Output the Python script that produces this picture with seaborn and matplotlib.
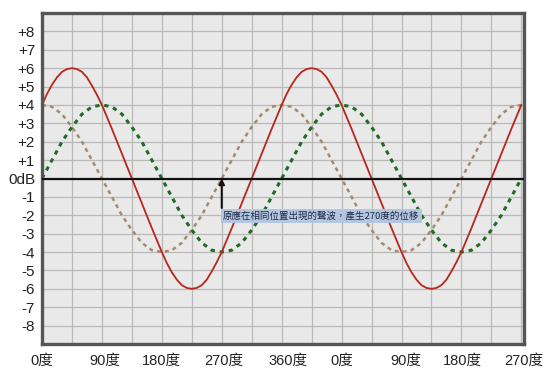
import numpy as np
import pandas as pd
import matplotlib
matplotlib.use("Agg")
import matplotlib.pyplot as plt
import seaborn as sns

# ---- data ----
degrees = list(range(0, 721, 15))
green_wave = [0, 1.0, 2.0, 2.8, 3.5, 3.9, 4.0, 3.9, 3.5, 2.8, 2.0, 1.0,
              0, -1.0, -2.0, -2.8, -3.5, -3.9, -4.0, -3.9, -3.5, -2.8, -2.0, -1.0,
              0, 1.0, 2.0, 2.8, 3.5, 3.9, 4.0, 3.9, 3.5, 2.8, 2.0, 1.0,
              0, -1.0, -2.0, -2.8, -3.5, -3.9, -4.0, -3.9, -3.5, -2.8, -2.0, -1.0, 0]
brown_wave = [4.0, 3.9, 3.5, 2.8, 2.0, 1.0, 0, -1.0, -2.0, -2.8, -3.5, -3.9,
              -4.0, -3.9, -3.5, -2.8, -2.0, -1.0, 0, 1.0, 2.0, 2.8, 3.5, 3.9,
              4.0, 3.9, 3.5, 2.8, 2.0, 1.0, 0, -1.0, -2.0, -2.8, -3.5, -3.9,
              -4.0, -3.9, -3.5, -2.8, -2.0, -1.0, 0, 1.0, 2.0, 2.8, 3.5, 3.9, 4.0]

red_degrees = [0, 7.5, 15, 22.5, 30, 37.5, 45, 52.5, 60, 67.5, 75, 82.5, 90,
               105, 120, 135, 150, 165,
               180, 187.5, 195, 202.5, 210, 217.5, 225, 232.5, 240, 247.5, 255, 262.5, 270,
               285, 300, 315, 330, 345,
               360, 367.5, 375, 382.5, 390, 397.5, 405, 412.5, 420, 427.5, 435, 442.5, 450,
               465, 480, 495, 510, 525,
               540, 547.5, 555, 562.5, 570, 577.5, 585, 592.5, 600, 607.5, 615, 622.5, 630,
               645, 660, 675, 690, 705, 720]
red_wave = [4.0, 4.6, 5.1, 5.5, 5.8, 5.95, 6.0, 5.95, 5.8, 5.5, 5.05, 4.55, 4.0,
            2.7, 1.35, 0, -1.35, -2.7,
            -4.0, -4.6, -5.1, -5.5, -5.8, -5.95, -6.0, -5.95, -5.8, -5.5, -5.05, -4.55, -4.0,
            -2.7, -1.35, 0, 1.35, 2.7,
            4.0, 4.6, 5.1, 5.5, 5.8, 5.95, 6.0, 5.95, 5.8, 5.5, 5.05, 4.55, 4.0,
            2.7, 1.35, 0, -1.35, -2.7,
            -4.0, -4.6, -5.1, -5.5, -5.8, -5.95, -6.0, -5.95, -5.8, -5.5, -5.05, -4.55, -4.0,
            -2.7, -1.35, 0, 1.35, 2.7, 4.0]

y_ticks = [8, 7, 6, 5, 4, 3, 2, 1, 0, -1, -2, -3, -4, -5, -6, -7, -8]
y_labels = ["+8", "+7", "+6", "+5", "+4", "+3", "+2", "+1", "0dB",
            "-1", "-2", "-3", "-4", "-5", "-6", "-7", "-8"]
x_tick_pos = [0, 94, 179, 273, 369, 451, 547, 632, 724]
x_tick_labels = ["0度", "90度", "180度", "270度", "360度", "0度", "90度", "180度", "270度"]
note_text = "原應在相同位置出現的聲波，產生270度的位移"
note_deg = 270

df = pd.DataFrame({"deg": degrees, "green": green_wave, "brown": brown_wave})
df_red = pd.DataFrame({"deg": red_degrees, "red": red_wave})

sns.set_theme(style="white")
plt.rcParams["font.family"] = ["Liberation Sans", "Noto Sans CJK TC", "DejaVu Sans"]

fig = plt.figure(figsize=(5.57, 3.77), dpi=100)
ax = fig.add_axes([42 / 557, 1 - 344 / 377, 482 / 557, 331 / 377])
ax.set_facecolor("#e9e9e9")

sns.lineplot(data=df, x="deg", y="brown", ax=ax, color="#a58a6e",
             linewidth=1.8, linestyle=(0, (1.6, 1.6)))
sns.lineplot(data=df, x="deg", y="green", ax=ax, color="#1f6b24",
             linewidth=2.2, linestyle=(0, (1.4, 1.6)))
sns.lineplot(data=df_red, x="deg", y="red", ax=ax, color="#b8261c",
             linewidth=1.3)

ax.set_xlim(0, 720)
ax.set_ylim(-9, 9)

ax.set_yticks(y_ticks)
ax.set_yticklabels(y_labels, fontsize=11, color="#222222")
ax.set_xticks(x_tick_pos)
ax.set_xticklabels(x_tick_labels, fontsize=10.5, color="#222222")

# grid lines: every 45 degrees and every 1 dB (minor grid)
ax.xaxis.remove_overlapping_locs = False
ax.yaxis.remove_overlapping_locs = False
ax.set_xticks(np.arange(0, 721, 45), minor=True)
ax.set_yticks(np.arange(-9, 10, 1), minor=True)
ax.grid(False, which="major")
ax.grid(True, which="minor", color="#b9b9b9", linewidth=0.9)
ax.set_axisbelow(True)

ax.axhline(0, color="#111111", linewidth=1.6, zorder=4)

ax.tick_params(axis="both", which="both", length=0)
ax.tick_params(axis="y", pad=5)
ax.tick_params(axis="x", pad=7)
ax.set_xlabel("")
ax.set_ylabel("")

for s in ax.spines.values():
    s.set_visible(True)
    s.set_color("#555555")
    s.set_linewidth(2.4)

ax.annotate("", xy=(note_deg, 0), xytext=(note_deg, -1.6),
            arrowprops=dict(arrowstyle="-|>", color="#111111", lw=1.5,
                            mutation_scale=8, shrinkA=0, shrinkB=0), zorder=6)
ax.text(note_deg + 2, -2.03, note_text, fontsize=6.8, color="#1c2a48",
        ha="left", va="center", zorder=6,
        family=["Noto Sans CJK TC", "DejaVu Sans"],
        bbox=dict(boxstyle="square,pad=0.25", facecolor="#b3c5e0",
                  edgecolor="none", alpha=0.95))

fig.savefig("out.png", dpi=100)
